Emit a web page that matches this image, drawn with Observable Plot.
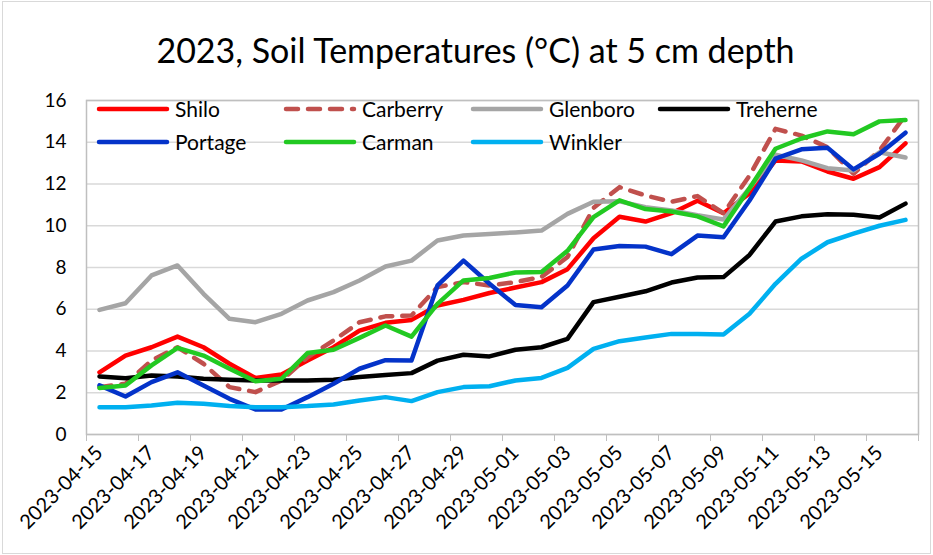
<!DOCTYPE html>
<html>
<head>
<meta charset="utf-8">
<script src="https://cdn.jsdelivr.net/npm/d3@7"></script>
<script src="https://cdn.jsdelivr.net/npm/@observablehq/plot@0.6"></script>
<style>
  html, body { margin: 0; padding: 0; background: #fff; }
  #chart { position: relative; width: 933px; height: 555px; font-family: Lato, "Open Sans", sans-serif; color: #000; box-sizing: border-box; }
  #frameBox { position: absolute; left: 2px; top: 1px; width: 927px; height: 551px; border: 1px solid #D9D9D9; pointer-events: none; }
  #title { height: 80px; box-sizing: border-box; padding-top: 33px; text-align: center; font-size: 34px; line-height: 1; padding-left: 18px; }
  #legend { position: absolute; left: 96px; top: 92px; width: 800px; display: flex; flex-wrap: wrap; }
  .item { width: 187px; height: 33px; display: flex; align-items: center; font-size: 21px; }
  .item svg { width: 74px; height: 12px; flex: none; }
  .item span { margin-left: 5px; }
</style>
</head>
<body>
<div id="chart">
  <div id="title">2023, Soil Temperatures (°C) at 5 cm depth</div>
  <div id="legend"></div>
  <div id="frameBox"></div>
</div>
<script>
const dates = ["2023-04-15","2023-04-16","2023-04-17","2023-04-18","2023-04-19","2023-04-20","2023-04-21","2023-04-22","2023-04-23","2023-04-24","2023-04-25","2023-04-26","2023-04-27","2023-04-28","2023-04-29","2023-04-30","2023-05-01","2023-05-02","2023-05-03","2023-05-04","2023-05-05","2023-05-06","2023-05-07","2023-05-08","2023-05-09","2023-05-10","2023-05-11","2023-05-12","2023-05-13","2023-05-14","2023-05-15","2023-05-16"];

const shilo    = [2.98,3.78,4.18,4.69,4.18,3.39,2.71,2.87,3.54,4.18,4.98,5.35,5.49,6.18,6.45,6.78,7.04,7.30,7.92,9.40,10.43,10.20,10.60,11.20,10.60,11.55,13.13,13.08,12.60,12.25,12.81,13.95];
const carberry = [2.27,2.43,3.54,4.18,3.39,2.27,2.03,2.59,3.70,4.50,5.38,5.66,5.70,7.06,7.30,7.14,7.30,7.55,8.50,10.85,11.85,11.45,11.15,11.42,10.60,12.40,14.64,14.32,13.76,12.49,13.60,15.30];
const glenboro = [5.97,6.29,7.62,8.10,6.74,5.54,5.38,5.78,6.42,6.82,7.38,8.05,8.33,9.29,9.53,9.61,9.68,9.77,10.57,11.15,11.17,10.89,10.73,10.50,10.30,11.80,13.40,13.13,12.76,12.65,13.52,13.27];
const treherne = [2.78,2.70,2.83,2.78,2.67,2.62,2.59,2.59,2.59,2.62,2.75,2.85,2.94,3.54,3.82,3.74,4.06,4.18,4.58,6.34,6.60,6.86,7.28,7.52,7.54,8.60,10.20,10.45,10.55,10.53,10.40,11.06];
const portage  = [2.35,1.82,2.51,2.98,2.35,1.71,1.20,1.20,1.79,2.43,3.15,3.56,3.54,7.14,8.33,7.22,6.20,6.10,7.14,8.86,9.03,9.00,8.64,9.53,9.45,11.21,13.21,13.66,13.74,12.70,13.45,14.46];
const carman   = [2.23,2.35,3.31,4.15,3.78,3.15,2.55,2.67,3.90,4.06,4.63,5.22,4.69,6.26,7.38,7.50,7.76,7.78,8.80,10.41,11.22,10.80,10.68,10.45,9.97,11.80,13.69,14.18,14.52,14.38,15.00,15.06];
const winkler  = [1.31,1.31,1.39,1.52,1.47,1.36,1.31,1.31,1.36,1.44,1.63,1.79,1.60,2.03,2.27,2.31,2.59,2.71,3.19,4.10,4.47,4.65,4.82,4.82,4.79,5.78,7.22,8.42,9.21,9.62,10.00,10.28];

const seriesNames = ["Shilo","Carberry","Glenboro","Treherne","Portage","Carman","Winkler"];
const seriesValues = [shilo, carberry, glenboro, treherne, portage, carman, winkler];
const seriesColors = ["#FF0000","#C0504D","#A5A5A5","#000000","#0433C9","#22C922","#00B0F0"];
const seriesDash = [null,"12,10",null,null,null,null,null];
const yTicks = [0,2,4,6,8,10,12,14,16];

const rows = seriesNames.flatMap((name, s) =>
  seriesValues[s].map((v, i) => ({series: name, i, date: dates[i], value: v})));

const labelIdx = d3.range(0, dates.length, 2);
const boundaries = d3.range(-0.5, dates.length + 0.5, 2);

const lineMarks = seriesNames.map((name, s) =>
  Plot.line(rows.filter(r => r.series === name), {
    x: "i", y: "value",
    stroke: seriesColors[s],
    strokeWidth: 4.5,
    strokeLinejoin: "round",
    strokeLinecap: "round",
    strokeDasharray: seriesDash[s] || undefined
  }));

const plot = Plot.plot({
  width: 933,
  height: 475,
  marginLeft: 86,
  marginRight: 15,
  marginTop: 20,
  marginBottom: 121,
  style: {fontFamily: "Lato, 'Open Sans', sans-serif", fontSize: "19px", color: "#000", background: "#fff"},
  x: {domain: [-0.5, dates.length - 0.5]},
  y: {domain: [0, 16]},
  marks: [
    Plot.gridY(yTicks, {stroke: "#D9D9D9", strokeOpacity: 1, strokeWidth: 1.5}),
    Plot.axisY(yTicks, {tickSize: 0, tickPadding: 20, label: null, fontSize: 19}),
    Plot.axisX(boundaries, {tickSize: 7, stroke: "#BFBFBF", text: null, label: null}),
    Plot.axisX(labelIdx, {tickSize: 0, tickPadding: 15, tickRotate: -45, tickFormat: i => dates[i], label: null, fontSize: 20}),
    Plot.frame({stroke: "#BFBFBF", strokeWidth: 1.5}),
    ...lineMarks
  ]
});
document.getElementById("chart").insertBefore(plot, document.getElementById("legend"));

const legend = document.getElementById("legend");
seriesNames.forEach((name, s) => {
  const item = document.createElement("div");
  item.className = "item";
  const dash = seriesDash[s] ? ` stroke-dasharray="${seriesDash[s]}"` : "";
  item.innerHTML = `<svg viewBox="0 0 74 12"><line x1="3" y1="6" x2="71" y2="6" stroke="${seriesColors[s]}" stroke-width="4.5" stroke-linecap="round"${dash}/></svg><span>${name}</span>`;
  legend.appendChild(item);
});
</script>
</body>
</html>
